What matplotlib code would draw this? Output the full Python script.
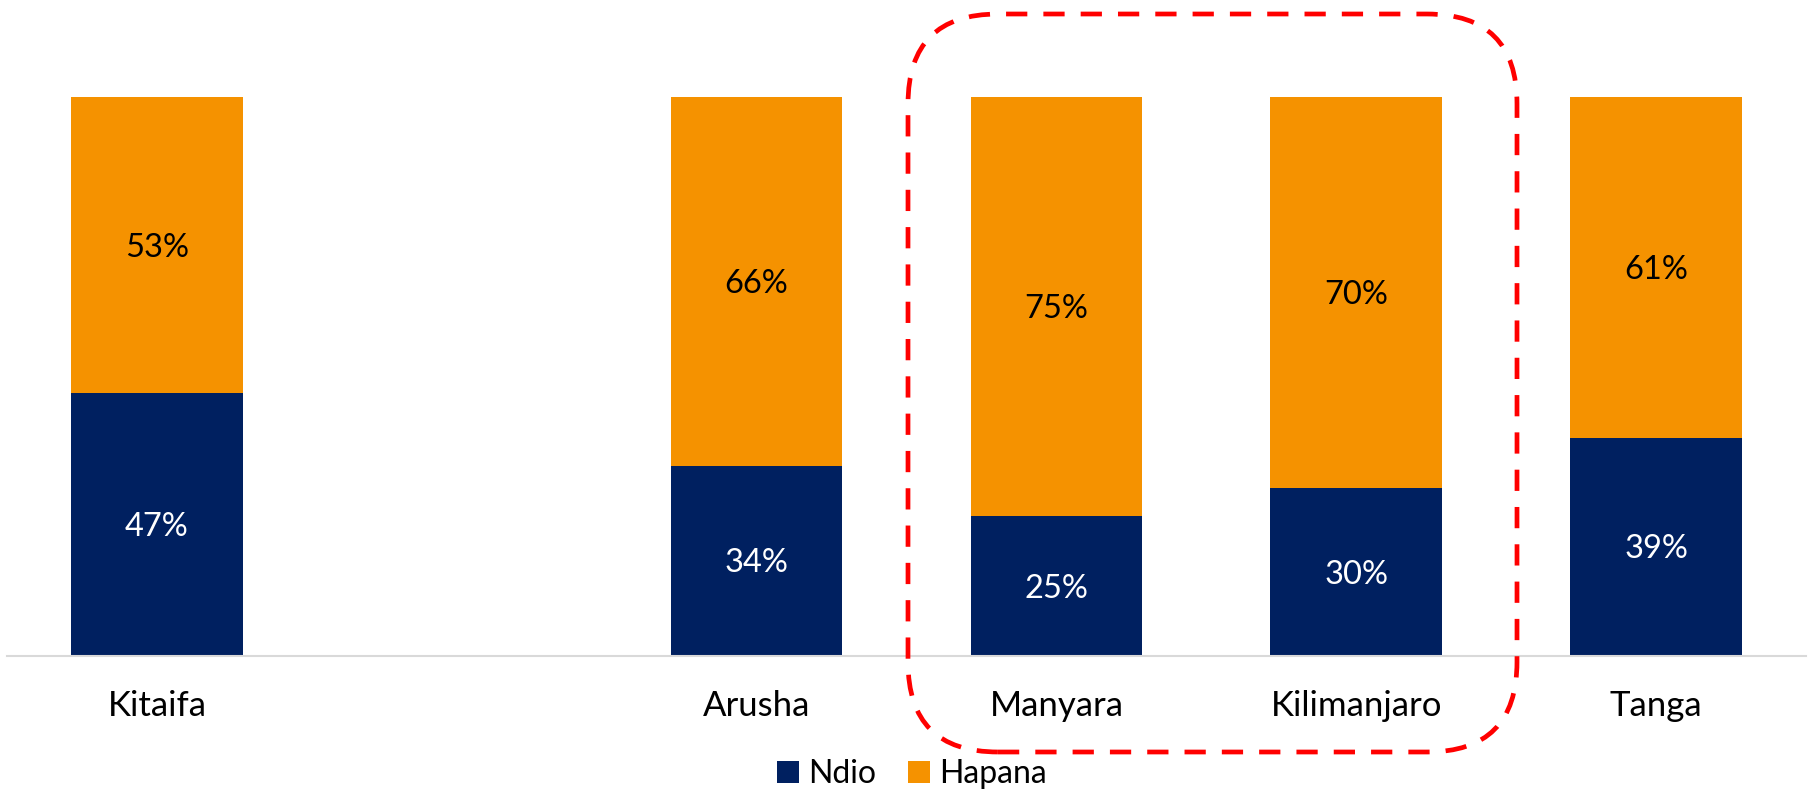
import numpy as np
import matplotlib
matplotlib.use("Agg")
import matplotlib.pyplot as plt
from matplotlib.patches import FancyBboxPatch, Patch

categories = ["Kitaifa", "", "Arusha", "Manyara", "Kilimanjaro", "Tanga"]
ndio = [47, np.nan, 34, 25, 30, 39]
hapana = [53, np.nan, 66, 75, 70, 61]
series_names = ["Ndio", "Hapana"]

NAVY = "#002060"
ORANGE = "#F59200"

plt.rcParams['font.family'] = ['Lato', 'DejaVu Sans']

fig = plt.figure(figsize=(18.1, 7.94), dpi=100)
W, H = 1810, 794
ax = fig.add_axes([7 / W, 1 - 655.6 / H, (1806 - 7) / W, (655.6 - 97) / H])

x = np.arange(len(categories))
nd = np.array(ndio, dtype=float)
hp = np.array(hapana, dtype=float)
width = 0.573
ax.bar(x, nd, width, color=NAVY, label=series_names[0])
ax.bar(x, hp, width, bottom=nd, color=ORANGE, label=series_names[1])

for xi, a, b in zip(x, nd, hp):
    if np.isnan(a):
        continue
    ax.text(xi, a / 2 - 0.5, f"{a:.0f}%", ha="center", va="center", color="white", fontsize=23.5)
    ax.text(xi, a + b / 2 - 0.5, f"{b:.0f}%", ha="center", va="center", color="black", fontsize=23.5)

ax.set_xlim(-0.5, len(categories) - 0.5)
ax.set_ylim(0, 100)
ax.set_xticks(x)
ax.set_xticklabels(categories, fontsize=25)
ax.tick_params(axis="x", length=0, pad=25)
ax.set_yticks([])
for s in ["top", "right", "left"]:
    ax.spines[s].set_visible(False)
ax.spines["bottom"].set_color("#D9D9D9")
ax.spines["bottom"].set_linewidth(1.5)

handles = [Patch(facecolor=NAVY), Patch(facecolor=ORANGE)]
fig.legend(handles, series_names, loc="center", bbox_to_anchor=(912 / W, 1 - 774 / H),
           ncol=2, frameon=False, fontsize=23, handlelength=0.68, handleheight=0.68,
           handletextpad=0.3, columnspacing=1.0)

# dashed highlight box (in inches)
x0, x1 = 908 / 100, 1517 / 100
y0, y1 = (H - 752) / 100, (H - 14) / 100
box = FancyBboxPatch((x0, y0), x1 - x0, y1 - y0,
                     boxstyle="round,pad=0,rounding_size=0.9",
                     transform=fig.dpi_scale_trans, fill=False,
                     edgecolor="#FF0000", linewidth=3.4,
                     linestyle=(0, (4.5, 3.4)))
fig.patches.append(box)

fig.savefig("out.png", dpi=100)
